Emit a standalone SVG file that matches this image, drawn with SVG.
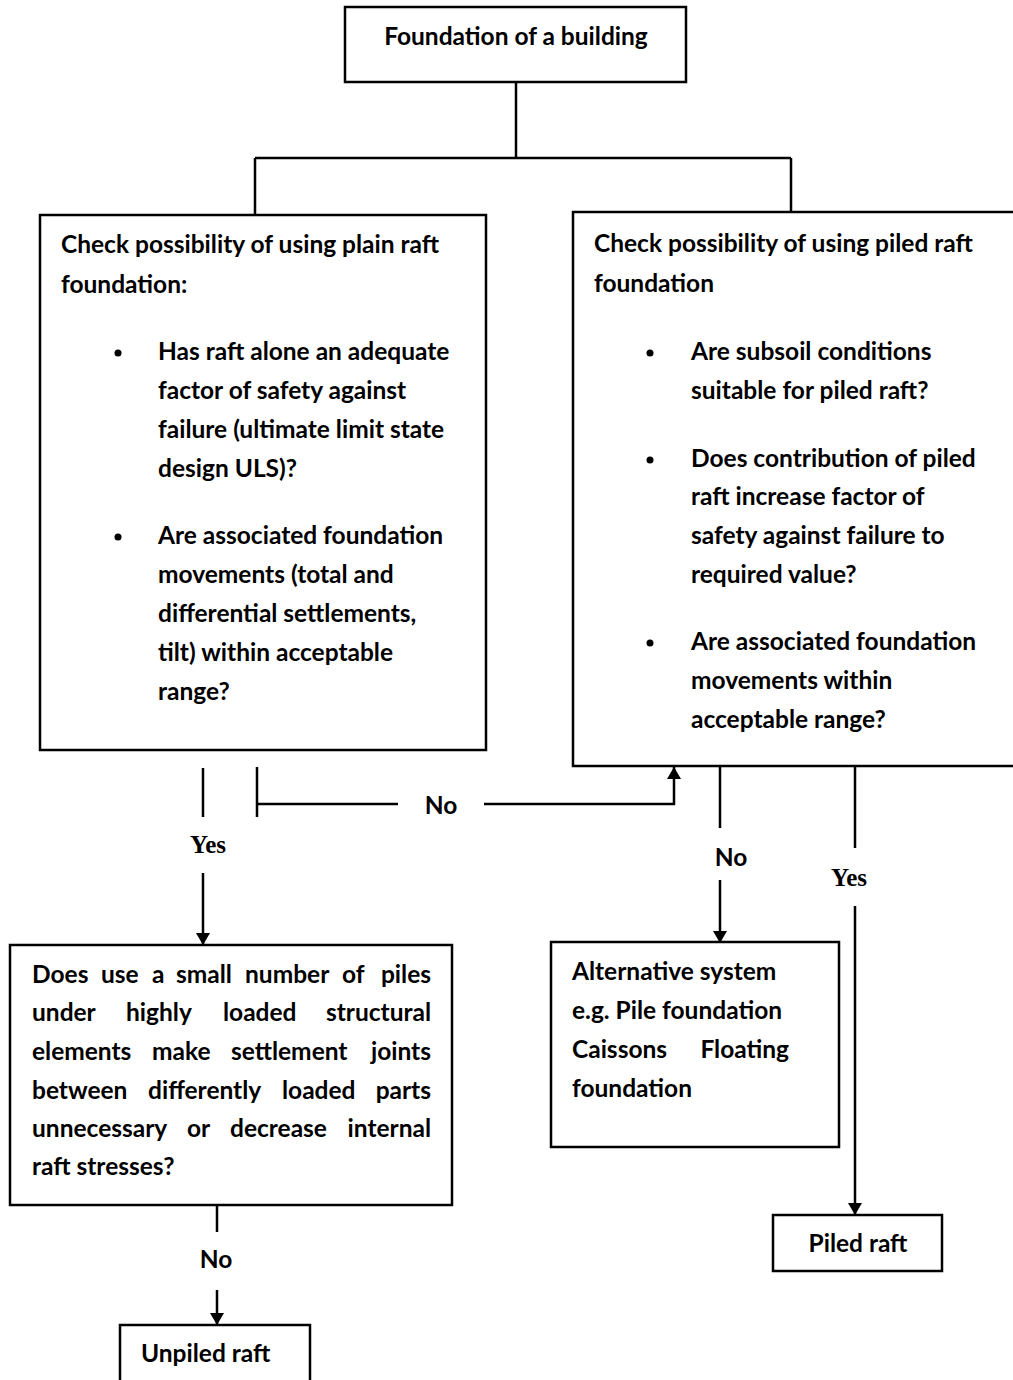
<svg xmlns="http://www.w3.org/2000/svg" width="1013" height="1380" viewBox="0 0 1013 1380">
<style>
.box{fill:#fff;stroke:#000;stroke-width:2.5}
.t{font-family:Lato,"Liberation Sans",sans-serif;font-weight:bold;font-size:24.5px;fill:#000}
.s{font-family:"Liberation Serif",serif;font-weight:bold;font-size:25px;fill:#000}
.c{fill:none;stroke:#000;stroke-width:2.5}
.mid{text-anchor:middle}
.end{text-anchor:end}
</style>
<defs>
<marker id="ah" viewBox="0 0 12 14" refX="12" refY="7" markerWidth="12" markerHeight="14" markerUnits="userSpaceOnUse" orient="auto">
<path d="M0,0 L12,7 L0,14 Z" fill="#000"/>
</marker>
</defs>
<rect width="1013" height="1380" fill="#fff"/>
<g id="connectors">
<path class="c" d="M516,82 V158 M255,158 H791 M255,158 V215 M791,158 V212"/>
<path class="c" d="M203,768 V817"/>
<path class="c" d="M203,873 V945" marker-end="url(#ah)"/>
<path class="c" d="M257,767 V817 M257,804 H398"/>
<path class="c" d="M484,804 H674 V767" marker-end="url(#ah)"/>
<path class="c" d="M720,766 V828"/>
<path class="c" d="M720,880 V943" marker-end="url(#ah)"/>
<path class="c" d="M855,766 V848"/>
<path class="c" d="M855,906 V1215" marker-end="url(#ah)"/>
<path class="c" d="M217,1205 V1232"/>
<path class="c" d="M217,1290 V1325" marker-end="url(#ah)"/>
<text class="s mid" x="208" y="853">Yes</text>
<text class="t mid" x="441" y="814">No</text>
<text class="t mid" x="731" y="866">No</text>
<text class="s mid" x="849" y="886">Yes</text>
<text class="t mid" x="216" y="1268">No</text>
</g>
<g id="n-top">
<rect class="box" x="345" y="7" width="341" height="75"/>
<text class="t mid" x="516" y="45">Foundation of a building</text>
</g>
<g id="n-plain">
<rect class="box" x="40" y="215" width="446" height="535"/>
<text class="t" x="61" y="253">Check possibility of using plain raft</text>
<text class="t" x="61" y="293">foundation:</text>
<circle cx="118" cy="353" r="3.5"/>
<text class="t" x="158" y="360">Has raft alone an adequate</text>
<text class="t" x="158" y="399">factor of safety against</text>
<text class="t" x="158" y="438">failure (ultimate limit state</text>
<text class="t" x="158" y="477">design ULS)?</text>
<circle cx="118" cy="537" r="3.5"/>
<text class="t" x="158" y="544">Are associated foundation</text>
<text class="t" x="158" y="583">movements (total and</text>
<text class="t" x="158" y="622">differential settlements,</text>
<text class="t" x="158" y="661">tilt) within acceptable</text>
<text class="t" x="158" y="700">range?</text>
</g>
<g id="n-piled">
<rect class="box" x="573" y="212" width="445" height="554"/>
<text class="t" x="594" y="252">Check possibility of using piled raft</text>
<text class="t" x="594" y="292">foundation</text>
<circle cx="650" cy="353" r="3.5"/>
<text class="t" x="691" y="360">Are subsoil conditions</text>
<text class="t" x="691" y="399">suitable for piled raft?</text>
<circle cx="650" cy="460" r="3.5"/>
<text class="t" x="691" y="467">Does contribution of piled</text>
<text class="t" x="691" y="505">raft increase factor of</text>
<text class="t" x="691" y="544">safety against failure to</text>
<text class="t" x="691" y="583">required value?</text>
<circle cx="650" cy="643" r="3.5"/>
<text class="t" x="691" y="650">Are associated foundation</text>
<text class="t" x="691" y="689">movements within</text>
<text class="t" x="691" y="728">acceptable range?</text>
</g>
<g id="n-small">
<rect class="box" x="10" y="945" width="442" height="260"/>
<text class="t" x="32" y="983">Does</text><text class="t" x="101" y="983">use</text><text class="t" x="152" y="983">a</text><text class="t" x="176" y="983">small</text><text class="t" x="245" y="983">number</text><text class="t" x="342" y="983">of</text><text class="t end" x="431" y="983">piles</text>
<text class="t" x="32" y="1021">under</text><text class="t" x="126" y="1021">highly</text><text class="t" x="223" y="1021">loaded</text><text class="t end" x="431" y="1021">structural</text>
<text class="t" x="32" y="1060">elements</text><text class="t" x="152" y="1060">make</text><text class="t" x="231" y="1060">settlement</text><text class="t end" x="431" y="1060">joints</text>
<text class="t" x="32" y="1099">between</text><text class="t" x="148" y="1099">differently</text><text class="t" x="282" y="1099">loaded</text><text class="t end" x="431" y="1099">parts</text>
<text class="t" x="32" y="1137">unnecessary</text><text class="t" x="187" y="1137">or</text><text class="t" x="230" y="1137">decrease</text><text class="t end" x="431" y="1137">internal</text>
<text class="t" x="32" y="1175">raft stresses?</text>
</g>
<g id="n-alt">
<rect class="box" x="551" y="942" width="288" height="205"/>
<text class="t" x="572" y="980">Alternative system</text>
<text class="t" x="572" y="1019">e.g. Pile foundation</text>
<text class="t" x="572" y="1058">Caissons</text><text class="t end" x="789" y="1058">Floating</text>
<text class="t" x="572" y="1097">foundation</text>
</g>
<g id="n-piledraft">
<rect class="box" x="773" y="1215" width="169" height="56"/>
<text class="t mid" x="858" y="1252">Piled raft</text>
</g>
<g id="n-unpiled">
<rect class="box" x="120" y="1325" width="190" height="70"/>
<text class="t" x="141" y="1362">Unpiled raft</text>
</g>
</svg>
